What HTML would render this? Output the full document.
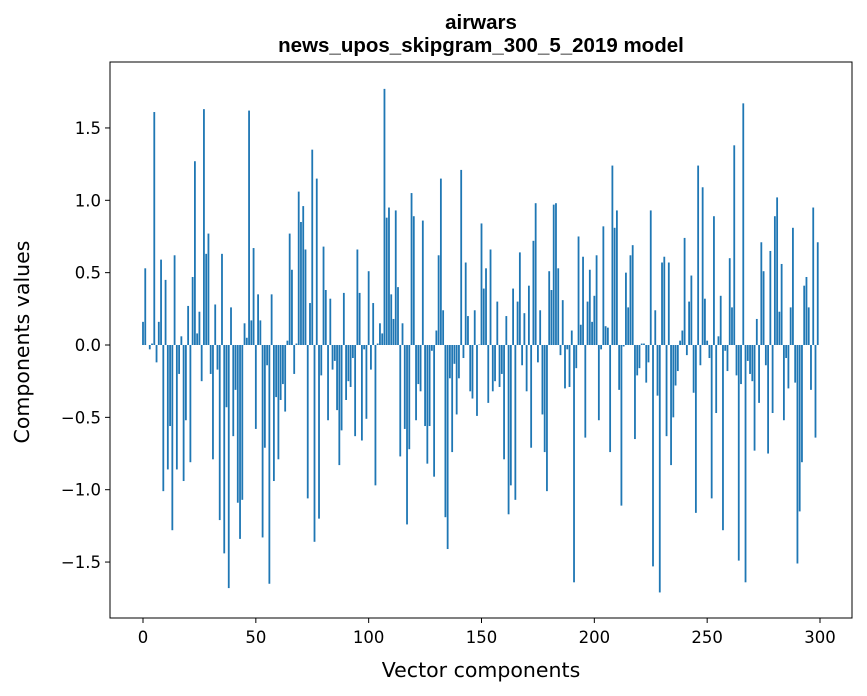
<!DOCTYPE html>
<html><head><meta charset="utf-8"><style>
body{margin:0;background:#fff;}
svg{display:block;font-family:"DejaVu Sans","Liberation Sans",sans-serif;}
</style></head><body>
<svg id="chart" width="867" height="696">
<rect width="867" height="696" fill="#fff"/>
<text x="481" y="29" text-anchor="middle" font-size="20.5" font-weight="bold" font-family="Liberation Sans, sans-serif">airwars</text>
<text x="481" y="52" text-anchor="middle" font-size="20.5" font-weight="bold" font-family="Liberation Sans, sans-serif">news_upos_skipgram_300_5_2019 model</text>
<g id="bars"></g>
<rect x="110" y="62" width="742" height="556" fill="none" stroke="#000" stroke-width="1"/>
<g id="xticks"></g>
<g id="yticks"></g>
<text x="481" y="677" text-anchor="middle" font-size="20.5">Vector components</text>
<text transform="translate(29,342) rotate(-90)" text-anchor="middle" font-size="20.5">Components values</text>
</svg>
<script>
const values = [
0.16,0.53,0,-0.03,0.01,1.61,-0.12,0.16,0.59,-1.01,
0.45,-0.86,-0.56,-1.28,0.62,-0.86,-0.2,0.06,-0.94,-0.52,
0.27,-0.81,0.47,1.27,0.08,0.23,-0.25,1.63,0.63,0.77,
-0.2,-0.79,0.28,-0.17,-1.21,0.63,-1.44,-0.43,-1.68,0.26,
-0.63,-0.31,-1.09,-1.34,-1.07,0.15,0.05,1.62,0.17,0.67,
-0.58,0.35,0.17,-1.33,-0.71,-0.14,-1.65,0.35,-0.94,-0.36,
-0.79,-0.38,-0.27,-0.46,0.03,0.77,0.52,-0.2,0.01,1.06,
0.85,0.96,0.66,-1.06,0.29,1.35,-1.36,1.15,-1.2,-0.21,
0.68,0.38,-0.52,0.32,-0.17,-0.11,-0.45,-0.83,-0.59,0.36,
-0.38,-0.25,-0.29,-0.09,-0.63,0.66,0.36,-0.66,-0.03,-0.51,
0.51,-0.17,0.29,-0.97,0.01,0.15,0.08,1.77,0.88,0.95,
0.35,0.18,0.93,0.4,-0.77,0.15,-0.58,-1.24,-0.72,1.05,
0.89,-0.52,-0.27,-0.32,0.86,-0.56,-0.82,-0.56,-0.04,-0.91,
0.1,0.62,1.15,0.24,-1.19,-1.41,-0.23,-0.74,-0.13,-0.48,
-0.23,1.21,-0.09,0.57,0.2,-0.32,-0.37,0.24,-0.49,0.003,
0.84,0.39,0.53,-0.4,0.66,-0.32,-0.25,0.3,-0.29,-0.2,
-0.79,0.2,-1.17,-0.97,0.39,-1.07,0.3,0.64,-0.14,0.22,
-0.32,0.41,-0.71,0.72,0.98,-0.12,0.24,-0.48,-0.74,-1.01,
0.51,0.38,0.97,0.98,0.53,-0.07,0.31,-0.3,-0.03,-0.29,
0.1,-1.64,-0.16,0.75,0.14,0.61,-0.64,0.3,0.52,0.16,
0.34,0.62,-0.52,-0.03,0.82,0.13,0.12,-0.74,1.24,0.81,
0.93,-0.31,-1.11,-0.01,0.5,0.26,0.62,0.69,-0.65,-0.21,
-0.16,0.01,0.01,-0.26,-0.12,0.93,-1.53,0.24,-0.35,-1.71,
0.57,0.61,-0.63,0.57,-0.83,-0.5,-0.28,-0.18,0.03,0.1,
0.74,-0.07,0.3,0.48,-0.33,-1.16,1.24,-0.14,1.09,0.32,
0.03,-0.09,-1.06,0.89,-0.47,0.06,0.34,-1.28,-0.04,-0.18,
0.6,0.26,1.38,-0.21,-1.49,-0.27,1.67,-1.64,-0.11,-0.2,
-0.25,-0.73,0.18,-0.4,0.71,0.51,-0.14,-0.75,0.65,-0.47,
0.89,1.02,0.23,0.56,-0.52,-0.09,-0.3,0.26,0.81,-0.26,
-1.51,-1.15,-0.81,0.41,0.47,0.26,-0.31,0.95,-0.64,0.71
];
const xTicks = [0,50,100,150,200,250,300];
const yTicks = [-1.5,-1.0,-0.5,0.0,0.5,1.0,1.5];
const NS="http://www.w3.org/2000/svg";
function xs(v){return 143+v*(677/300);}
function ys(v){return 345-v*144.7;}
const bars=document.getElementById('bars');
values.forEach((v,i)=>{
  const r=document.createElementNS(NS,'rect');
  const w=0.8*(677/300);
  r.setAttribute('x',xs(i)-w/2);
  r.setAttribute('y',Math.min(ys(v),ys(0)));
  r.setAttribute('width',w);
  r.setAttribute('height',Math.abs(ys(v)-ys(0)));
  r.setAttribute('fill','#1f77b4');
  
  
  bars.appendChild(r);
});
const xg=document.getElementById('xticks');
xTicks.forEach(t=>{
  const l=document.createElementNS(NS,'line');
  l.setAttribute('x1',xs(t));l.setAttribute('x2',xs(t));
  l.setAttribute('y1',618);l.setAttribute('y2',623);
  l.setAttribute('stroke','#000');
  
  
  xg.appendChild(l);
  const tx=document.createElementNS(NS,'text');
  tx.setAttribute('x',xs(t));tx.setAttribute('y',643);
  tx.setAttribute('text-anchor','middle');tx.setAttribute('font-size','16.5');
  tx.textContent=t;
  
  
  xg.appendChild(tx);
});
const yg=document.getElementById('yticks');
yTicks.forEach(t=>{
  const l=document.createElementNS(NS,'line');
  l.setAttribute('x1',105);l.setAttribute('x2',110);
  l.setAttribute('y1',ys(t));l.setAttribute('y2',ys(t));
  l.setAttribute('stroke','#000');
  
  
  yg.appendChild(l);
  const tx=document.createElementNS(NS,'text');
  tx.setAttribute('x',101);tx.setAttribute('y',ys(t)+6);
  tx.setAttribute('text-anchor','end');tx.setAttribute('font-size','16.5');
  tx.textContent=(t<0?'\u2212':'')+Math.abs(t).toFixed(1);
  
  
  yg.appendChild(tx);
});
</script>
</body></html>
